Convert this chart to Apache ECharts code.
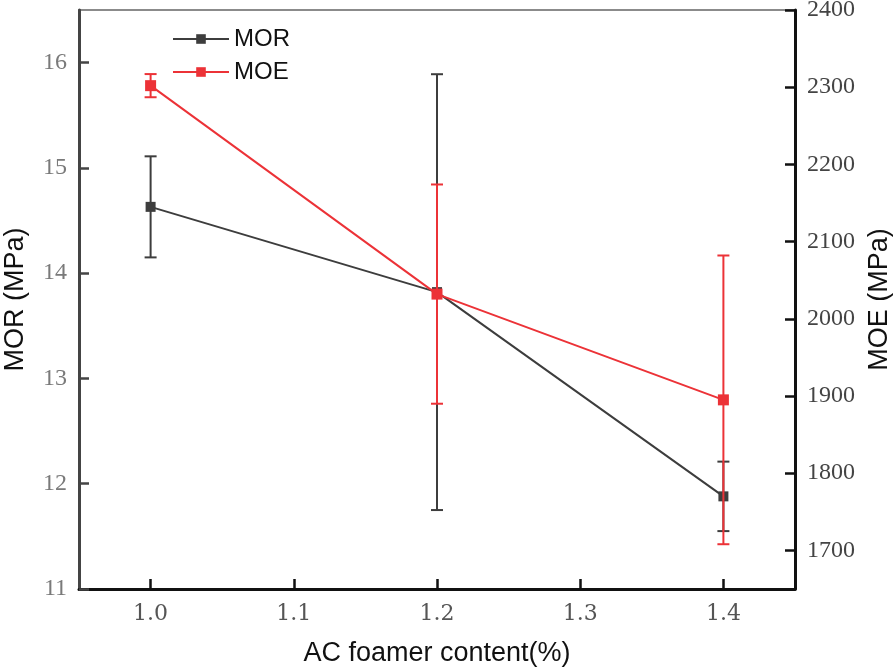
<!DOCTYPE html>
<html>
<head>
<meta charset="utf-8">
<script src="https://cdn.jsdelivr.net/npm/echarts@6/dist/echarts.min.js"></script>
<style>html,body{margin:0;padding:0;background:#fff}#c{width:896px;height:672px}</style>
</head>
<body>
<div id="c"></div>
<script>
// Data
const xValues = [1.0, 1.2, 1.4];
const morMean = [14.63, 13.82, 11.88];
const morErr  = [0.48, 2.07, 0.33];
const moeMean = [2302, 2032, 1895];
const moeErr  = [15, 142, 187];
const xTicks = [1.0, 1.1, 1.2, 1.3, 1.4];
const morTicks = [11, 12, 13, 14, 15, 16];
const moeTicks = [1700, 1800, 1900, 2000, 2100, 2200, 2300, 2400];

const MOR_COLOR = '#3d3d3d';
const MOE_COLOR = '#ec3237';
const serif = '"Liberation Serif", "DejaVu Serif", serif';
const sans = '"Liberation Sans", Arial, sans-serif';

function errData(mean, err) {
  return xValues.map((x, i) => [x, mean[i] - err[i], mean[i] + err[i]]);
}
function errRender(color) {
  return function (params, api) {
    const x = api.value(0);
    const lo = api.coord([x, api.value(1)]);
    const hi = api.coord([x, api.value(2)]);
    const hw = 6;
    const style = { stroke: color, lineWidth: 2 };
    return {
      type: 'group',
      children: [
        { type: 'line', shape: { x1: lo[0], y1: lo[1], x2: hi[0], y2: hi[1] }, style },
        { type: 'line', shape: { x1: lo[0] - hw, y1: lo[1], x2: lo[0] + hw, y2: lo[1] }, style },
        { type: 'line', shape: { x1: hi[0] - hw, y1: hi[1], x2: hi[0] + hw, y2: hi[1] }, style }
      ]
    };
  };
}

const chart = echarts.init(document.getElementById('c'), null, { renderer: 'canvas' });
chart.setOption({
  animation: false,
  backgroundColor: '#fff',
  grid: { left: 79, right: 101, top: 10, bottom: 83, show: true, borderColor: '#666', borderWidth: 1.5, containLabel: false, outerBoundsMode: 'none' },
  legend: {
    orient: 'vertical',
    left: 167,
    top: 22,
    itemWidth: 56,
    itemHeight: 12,
    itemGap: 9,
    textStyle: { fontFamily: sans, fontSize: 24, color: '#111' },
    data: ['MOR', 'MOE']
  },
  xAxis: {
    type: 'value',
    min: 0.95,
    max: 1.45,
    name: 'AC foamer content(%)',
    nameLocation: 'middle',
    nameGap: 51,
    nameTextStyle: { fontFamily: sans, fontSize: 27, color: '#111' },
    axisLine: { show: true, lineStyle: { color: '#111', width: 3 } },
    axisTick: { show: true, inside: true, length: 10, lineStyle: { color: '#111', width: 2.5 }, customValues: xTicks },
    axisLabel: { fontFamily: '"DejaVu Serif", serif', fontSize: 22, color: '#555', margin: 14, customValues: xTicks, formatter: v => v.toFixed(1) },
    splitLine: { show: false }
  },
  yAxis: [
    {
      type: 'value',
      position: 'left',
      min: 11,
      max: 16.5,
      name: 'MOR (MPa)',
      nameLocation: 'middle',
      nameGap: 50,
      nameTextStyle: { fontFamily: sans, fontSize: 27, color: '#111' },
      axisLine: { show: true, lineStyle: { color: '#444', width: 3 } },
      axisTick: { show: true, inside: true, length: 10, lineStyle: { color: '#444', width: 2.5 }, customValues: morTicks },
      axisLabel: { fontFamily: serif, fontSize: 24, color: '#7a7a7a', margin: 12, customValues: morTicks, formatter: v => String(v) },
      splitLine: { show: false }
    },
    {
      type: 'value',
      position: 'right',
      min: 1650,
      max: 2400,
      name: 'MOE (MPa)',
      nameLocation: 'middle',
      nameGap: 70,
      nameTextStyle: { fontFamily: sans, fontSize: 27, color: '#111' },
      axisLine: { show: true, lineStyle: { color: '#111', width: 3 } },
      axisTick: { show: true, inside: true, length: 10, lineStyle: { color: '#111', width: 2.5 }, customValues: moeTicks },
      axisLabel: { fontFamily: serif, fontSize: 24, color: '#444', margin: 12, customValues: moeTicks, formatter: v => String(v) },
      splitLine: { show: false }
    }
  ],
  series: [
    {
      name: 'MOR',
      type: 'line',
      yAxisIndex: 0,
      data: xValues.map((x, i) => [x, morMean[i]]),
      symbol: 'rect',
      symbolSize: 10,
      color: MOR_COLOR,
      lineStyle: { color: MOR_COLOR, width: 2 },
      itemStyle: { color: MOR_COLOR },
      z: 3
    },
    {
      name: 'MOR-err',
      type: 'custom',
      yAxisIndex: 0,
      renderItem: errRender(MOR_COLOR),
      data: errData(morMean, morErr),
      z: 2,
      silent: true
    },
    {
      name: 'MOE',
      type: 'line',
      yAxisIndex: 1,
      data: xValues.map((x, i) => [x, moeMean[i]]),
      symbol: 'rect',
      symbolSize: 11,
      color: MOE_COLOR,
      lineStyle: { color: MOE_COLOR, width: 2 },
      itemStyle: { color: MOE_COLOR },
      z: 5
    },
    {
      name: 'MOE-err',
      type: 'custom',
      yAxisIndex: 1,
      renderItem: errRender(MOE_COLOR),
      data: errData(moeMean, moeErr),
      z: 4,
      silent: true
    }
  ]
});
</script>
</body>
</html>
